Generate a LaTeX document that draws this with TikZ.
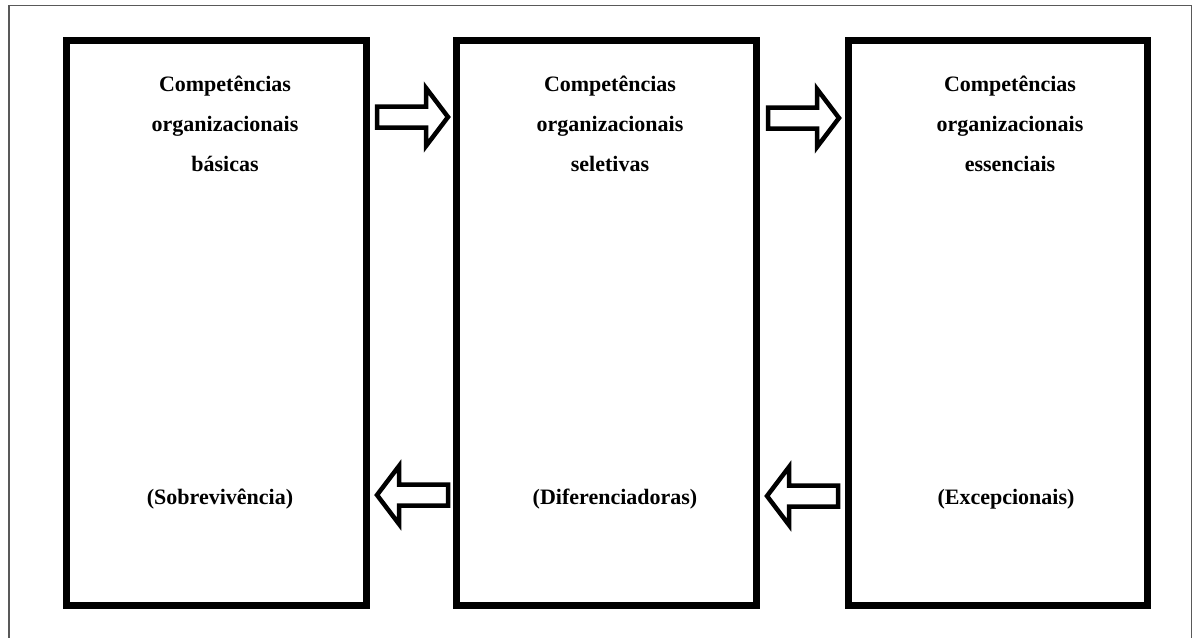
\documentclass[tikz,border=0pt]{standalone}
\usepackage{fontspec}
\setmainfont{Liberation Serif}
\begin{document}
\begin{tikzpicture}[x=1pt,y=-1pt,
  box/.style={draw=black, line width=7pt, minimum height=565pt, inner sep=0pt},
  arrowline/.style={draw=black, fill=white, line width=4.5pt, line join=miter},
  lbl/.style={font=\fontsize{22}{40}\selectfont\bfseries, align=center, inner sep=0pt},
  blockarrow/.pic={\path[arrowline] (0,-10.5) -- (49,-10.5) -- (49,-29) -- (71,0) -- (49,29) -- (49,10.5) -- (0,10.5) -- cycle;}
]
\useasboundingbox (0,0) rectangle (1193,637);
% outer frame
\draw[line width=1.3pt, draw=black!65] (9,640) -- (9,5.5) -- (1191.5,5.5) -- (1191.5,640);
% boxes
\node[box, minimum width=300pt] (b1) at (216.5,323) {};
\node[box, minimum width=300pt] (b2) at (606.5,323) {};
\node[box, minimum width=299pt] (b3) at (998,323) {};
% labels
\node[lbl] (t1) at (225,124) {Competências\\organizacionais\\básicas};
\node[lbl] (t2) at (610,124) {Competências\\organizacionais\\seletivas};
\node[lbl] (t3) at (1010,124) {Competências\\organizacionais\\essenciais};
\node[lbl] (l1) at (220,499) {(Sobrevivência)};
\node[lbl] (l2) at (615,499) {(Diferenciadoras)};
\node[lbl] (l3) at (1006,499) {(Excepcionais)};
% block arrows
\pic at (377,117) {blockarrow};
\pic at (768,118) {blockarrow};
\pic[xscale=-1] at (448,495) {blockarrow};
\pic[xscale=-1] at (838,496) {blockarrow};
\end{tikzpicture}
\end{document}
